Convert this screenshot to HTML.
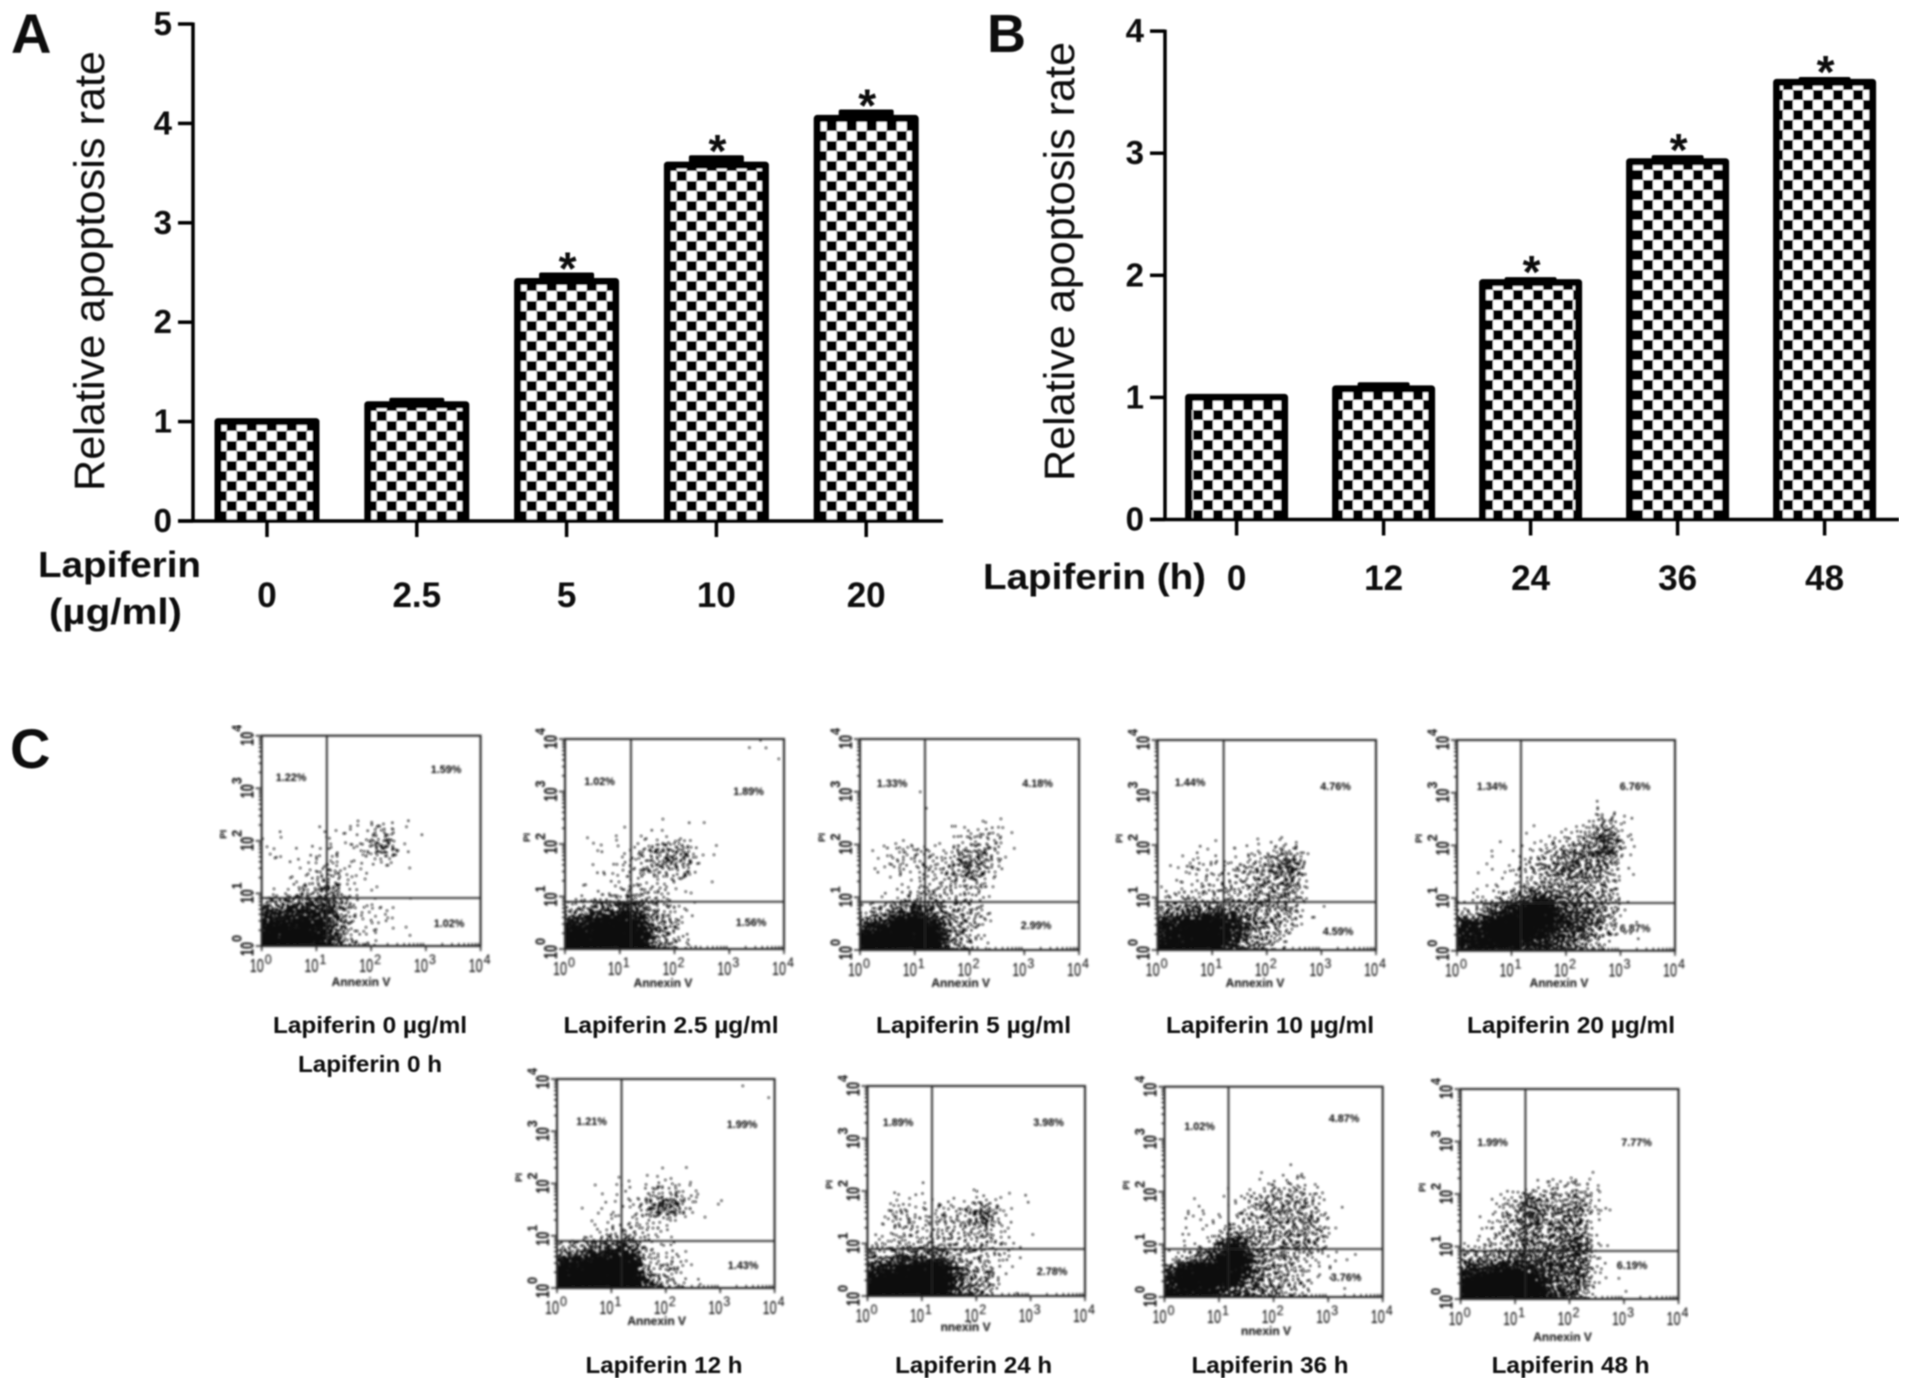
<!DOCTYPE html>
<html lang="en">
<head>
<meta charset="utf-8">
<title>Lapiferin apoptosis charts</title>
<style>
html,body{margin:0;padding:0;background:#fff;}
svg{display:block;}
text{font-family:"Liberation Sans",Arial,sans-serif;fill:#0a0a0a;}
</style>
</head>
<body>
<svg id="figure" xmlns="http://www.w3.org/2000/svg" width="1913" height="1391" viewBox="0 0 1913 1391">
<defs>
<filter id="soft" x="0" y="0" width="100%" height="100%"><feGaussianBlur stdDeviation="0.7"/></filter>
<filter id="softer" x="0" y="0" width="100%" height="100%"><feGaussianBlur stdDeviation="0.95"/></filter>
<pattern id="checkA" patternUnits="userSpaceOnUse" x="6.7" y="1" width="20" height="20"><rect width="20" height="20" fill="#fff"/><rect width="10" height="10" fill="#000"/><rect x="10" y="10" width="10" height="10" fill="#000"/></pattern>
<pattern id="checkB" patternUnits="userSpaceOnUse" x="3" y="0" width="20" height="20"><rect width="20" height="20" fill="#fff"/><rect width="10" height="10" fill="#000"/><rect x="10" y="10" width="10" height="10" fill="#000"/></pattern>
</defs>
<rect width="1913" height="1391" fill="#fff"/>
<g id="charts" filter="url(#soft)"></g>
<g id="flows" filter="url(#softer)"></g>
</svg>
<script>
// ---- Panel A data ----
const panelACategories = ['0', '2.5', '5', '10', '20'];
const panelAValues = [1.0, 1.17, 2.41, 3.58, 4.05];
const panelAErrors = [0, 0.04, 0.06, 0.07, 0.06];
const panelASignificant = [false, false, true, true, true];
const panelATicks = [0, 1, 2, 3, 4, 5];

// ---- Panel B data ----
const panelBCategories = ['0', '12', '24', '36', '48'];
const panelBValues = [1.0, 1.07, 1.94, 2.93, 3.58];
const panelBErrors = [0, 0.03, 0.02, 0.03, 0.02];
const panelBSignificant = [false, false, true, true, true];
const panelBTicks = [0, 1, 2, 3, 4];

// ---- Panel C data: estimated event density per cell (0-9), rows top to bottom, columns left to right ----
const flowDensity1 = ["00000000000000","00000000000000","00000000000000","00000000000000","00000000000000","00000100010000","10011214200000","20112125300000","01123121100000","00233210000000","12345210000000","66776322100000","88886322100000","99986321000000"];
const flowDensity2 = ["00000000000110","00000000000000","00000000000000","00000000000000","00000000000000","00000010100000","01011100000000","01112455100000","01123344100000","01122221000000","01234321000000","45677432000000","88998542000000","99999542000000"];
const flowDensity3 = ["00000000000000","00000000000000","00000000000000","00010000000000","00000000000000","00000011100000","00000123310000","02332244310000","02223355200000","00122333100000","01234332000000","34676443000000","78998542000000","99999542000000"];
const flowDensity4 = ["00000000000000","00000000000000","00000000000000","00000000000000","00000000000000","00000000000000","00000011000000","00111223410000","02322344610000","01223344510000","23333344410000","55666544410000","88998644200000","88997543100000"];
const flowDensity5 = ["00000000000000","00000000000000","00000000000000","00000000000000","00000000110000","00000000242000","00001123463000","00112345562000","01123455541000","01112344441000","02246755442000","34789976641000","88999877541000","88887765420000"];
const flowDensity6 = ["00000000000010","00000000000000","00000000000000","00000000000000","00000000000000","00000000000000","00011011000000","00111233210000","01112365200000","00122221000000","01234320000000","45677322000000","88999433000000","99999643100000"];
const flowDensity7 = ["00000000000000","00000000000000","00000000000000","00000000000000","00000000000000","00000000000000","00000000000000","01211112110000","03323346200000","02323334200000","23333333310000","55666433210000","88999744100000","99999654100000"];
const flowDensity8 = ["00000000000000","00000000000000","00000000000000","00000000000000","00000000000000","00000001000000","00000122310000","00011344430000","02212344441000","01113344442000","01158444442000","24689644321100","79998644321000","88876544310000"];
const flowDensity9 = ["00000000000000","00000000000000","00000000000000","00000000000000","00000000000000","00000000000000","00001233200000","00236435200000","01346455100000","01345455100000","13345557200000","55566666210000","88998656210000","99999765100000"];

const flowPercents1 = ['1.22%', '1.59%', '1.02%'];
const flowPercents2 = ['1.02%', '1.89%', '1.56%'];
const flowPercents3 = ['1.33%', '4.18%', '2.99%'];
const flowPercents4 = ['1.44%', '4.76%', '4.59%'];
const flowPercents5 = ['1.34%', '6.76%', '6.87%'];
const flowPercents6 = ['1.21%', '1.99%', '1.43%'];
const flowPercents7 = ['1.89%', '3.98%', '2.78%'];
const flowPercents8 = ['1.02%', '4.87%', '3.76%'];
const flowPercents9 = ['1.99%', '7.77%', '6.19%'];

// gate positions in decades of the log axes
const flowGateLogX = [1.19, 1.205, 1.187, 1.21, 1.174, 1.187, 1.186, 1.173, 1.19];
const flowGateLogY = [0.913, 0.90, 0.91, 0.914, 0.906, 0.90, 0.895, 0.913, 0.914];
const flowDecades = [0, 1, 2, 3, 4];

const SVGNS = 'http://www.w3.org/2000/svg';
function make(tag, parent) {
  const el = document.createElementNS(SVGNS, tag);
  parent.appendChild(el);
  return el;
}
function setAll(el, props) {
  for (const k in props) el.setAttribute(k, props[k]);
  return el;
}
function label(parent, str, x, y, size, weight, anchor, fit, rot) {
  const t = make('text', parent);
  t.textContent = str;
  setAll(t, {'font-size': size, 'font-weight': weight, 'text-anchor': anchor});
  if (rot) {
    t.setAttribute('transform', 'translate(' + x + ' ' + y + ') rotate(-90)');
  } else {
    setAll(t, {x: x, y: y});
  }
  if (fit) {
    setAll(t, {textLength: fit, lengthAdjust: 'spacingAndGlyphs'});
  }
  return t;
}

const charts = document.getElementById('charts');
const flows = document.getElementById('flows');

function drawBarChart(prefix, o, categories, values, errors, significant, ticks) {
  const g = make('g', charts);
  
  
  const yScale = v => o.y0 - v * o.unit;
  const xScale = i => o.x0 + i * o.step;

  categories.forEach((cat, i) => {
    const cx = xScale(i);
    const top = yScale(values[i]);
    const bw = o.barWidth;
    if (errors[i] > 0) {
      const errTop = yScale(values[i] + errors[i]);
      const err = make('rect', g);
      setAll(err, {x: cx - o.capWidth / 2, y: errTop - 3, width: o.capWidth, height: top - errTop + 5, rx: 2, fill: '#000'});
      
      
    }
    const bar = make('rect', g);
    setAll(bar, {x: cx - bw / 2 + 3.5, y: top, width: bw - 7, height: o.y0 - top, fill: 'url(#' + o.pattern + ')'});
    
    
    const outline = make('path', g);
    setAll(outline, {d: 'M' + (cx - bw / 2 + 3.5) + ' ' + o.y0 + 'V' + top + 'H' + (cx + bw / 2 - 3.5) + 'V' + o.y0, fill: 'none', stroke: '#000', 'stroke-width': 7, 'stroke-linejoin': 'round'});
    
    

    if (significant[i]) {
      const errTop = yScale(values[i] + errors[i]);
      const star = label(g, '*', cx + 1, errTop + o.starOffset, 46, 'bold', 'middle');
      
      
    }
    const tick = make('line', g);
    setAll(tick, {x1: cx, x2: cx, y1: o.y0, y2: o.y0 + 16, stroke: '#000', 'stroke-width': 3.5});
    
    
    const lab = label(g, cat, cx, o.catBase, 35, 'bold', 'middle');
    
    
  });

  const yAxis = make('line', g);
  setAll(yAxis, {x1: o.axisX, x2: o.axisX, y1: yScale(ticks[ticks.length - 1]) - 1.5, y2: o.y0 + 1.5, stroke: '#000', 'stroke-width': 3.5});
  
  
  const xAxis = make('line', g);
  setAll(xAxis, {x1: o.axisX - 15, x2: o.axisEnd, y1: o.y0, y2: o.y0, stroke: '#000', 'stroke-width': 3.5});
  
  

  ticks.forEach(v => {
    const y = yScale(v);
    const tick = make('line', g);
    setAll(tick, {x1: o.axisX - 15, x2: o.axisX, y1: y, y2: y, stroke: '#000', 'stroke-width': 3.5});
    
    
    const lab = label(g, String(v), o.axisX - 21, y + 11, 33, 'bold', 'end');
    
    
  });

  const title = label(g, 'Relative apoptosis rate', o.titleX, o.titleBottom, 43, 'normal', 'start', o.titleLength, true);
  
  
}

drawBarChart('panel-a', {
  x0: 267, step: 149.8, y0: 521, unit: 99.4, axisX: 193, axisEnd: 943,
  barWidth: 105, capWidth: 55, catBase: 607, starOffset: 9, pattern: 'checkA',
  titleX: 104, titleBottom: 491, titleLength: 440
}, panelACategories, panelAValues, panelAErrors, panelASignificant, panelATicks);

drawBarChart('panel-b', {
  x0: 1236.6, step: 147, y0: 519.5, unit: 122.1, axisX: 1165, axisEnd: 1899,
  barWidth: 103, capWidth: 52, catBase: 590, starOffset: 8, pattern: 'checkB',
  titleX: 1074, titleBottom: 481, titleLength: 439
}, panelBCategories, panelBValues, panelBErrors, panelBSignificant, panelBTicks);

const xTitleA1 = label(charts, 'Lapiferin', 38, 577, 36, 'bold', 'start', 163);


const xTitleA2 = label(charts, '(µg/ml)', 49, 624, 36, 'bold', 'start', 133);


const xTitleB = label(charts, 'Lapiferin (h)', 983, 589, 36, 'bold', 'start', 223);



const letterA = label(charts, 'A', 11, 53, 56, 'bold', 'start');


const letterB = label(charts, 'B', 987, 52, 54, 'bold', 'start');


const letterC = label(charts, 'C', 10, 768, 56, 'bold', 'start');



const densityCounts = [0, 2, 6, 16, 30, 50, 80, 125, 230, 520];
function frac(n) { return n - Math.floor(n); }
function scatterHash(a, b) { return frac(Math.sin(a * 12.9898 + b * 78.233) * 43758.5453); }
function cellCount(density, r, c) {
  const rr = Math.max(0, Math.min(density.length - 1, r));
  const cc = Math.max(0, Math.min(density[0].length - 1, c));
  return densityCounts[+density[rr][cc]];
}

function drawFlow(index, density, percents, b, pos, annexin, annexinText) {
  const name = 'flow-plot-' + index;
  const g = make('g', flows);
  
  
  const W = b.right - b.left;
  const H = b.bottom - b.top;
  const xLog = d => b.left + d / 4 * W;
  const yLog = d => b.bottom - d / 4 * H;
  const rows = density.length;
  const cols = density[0].length;
  const cw = W / cols;
  const ch = H / rows;
  const SUB = 4;
  let d = '';
  let carry = 0;
  let serial = index * 1000;
  for (let r = 0; r < rows; r++) {
    for (let c = 0; c < cols; c++) {
      for (let sr = 0; sr < SUB; sr++) {
        for (let sc = 0; sc < SUB; sc++) {
          const fx = c + (sc + 0.5) / SUB - 0.5;
          const fy = r + (sr + 0.5) / SUB - 0.5;
          const c0 = Math.floor(fx);
          const r0 = Math.floor(fy);
          const tx = fx - c0;
          const ty = fy - r0;
          const val = (cellCount(density, r0, c0) * (1 - tx) + cellCount(density, r0, c0 + 1) * tx) * (1 - ty) +
                      (cellCount(density, r0 + 1, c0) * (1 - tx) + cellCount(density, r0 + 1, c0 + 1) * tx) * ty;
          carry += val / (SUB * SUB);
          while (carry >= 1) {
            carry -= 1;
            serial++;
            const u = scatterHash(serial, 1.7);
            const v = scatterHash(serial, 9.3);
            const x = Math.max(b.left, Math.min(b.right - 2, b.left + (c + (sc - 0.5 + u * 2) / SUB) * cw));
            const y = Math.max(b.top, Math.min(b.bottom - 2, b.top + (r + (sr - 0.5 + v * 2) / SUB) * ch));
            d += 'M' + x.toFixed(1) + ' ' + y.toFixed(1) + 'h2v2h-2z';
          }
        }
      }
    }
  }
  const dots = make('path', g);
  setAll(dots, {d: d, fill: '#111'});
  
  

  const box = make('rect', g);
  setAll(box, {x: b.left, y: b.top, width: W, height: H, fill: 'none', stroke: '#222', 'stroke-width': 2});
  
  

  const gateV = make('line', g);
  setAll(gateV, {x1: xLog(flowGateLogX[index - 1]), x2: xLog(flowGateLogX[index - 1]), y1: b.top, y2: b.bottom, stroke: '#222', 'stroke-width': 1.8});
  
  
  const gateH = make('line', g);
  setAll(gateH, {x1: b.left, x2: b.right, y1: yLog(flowGateLogY[index - 1]), y2: yLog(flowGateLogY[index - 1]), stroke: '#222', 'stroke-width': 1.8});
  
  

  const minor = [1, 2, 3, 4, 5, 6, 7, 8, 9];
  let tickPath = '';
  flowDecades.slice(0, 4).forEach(dec => {
    minor.forEach(m => {
      const off = dec + Math.log10(m);
      const len = m === 1 ? 6 : 3;
      tickPath += 'M' + (b.left - len) + ' ' + yLog(off).toFixed(1) + 'H' + b.left;
      tickPath += 'M' + xLog(off).toFixed(1) + ' ' + b.bottom + 'v' + (m === 1 ? 5 : -3);
    });
  });
  tickPath += 'M' + (b.left - 6) + ' ' + b.top + 'H' + b.left + 'M' + b.right + ' ' + b.bottom + 'v5';
  const ticks = make('path', g);
  setAll(ticks, {d: tickPath, stroke: '#222', 'stroke-width': 1.5, fill: 'none'});
  
  

  flowDecades.forEach(dec => {
    const x = xLog(dec);
    const xb = label(g, '10', x - 5, b.bottom + 26, 18, 'normal', 'middle', 14);
    
    
    const xe = label(g, String(dec), x + 3, b.bottom + 18, 14, 'normal', 'start', 7);
    
    
    const y = yLog(dec);
    const yb = label(g, '10', b.left - 8, y + 10, 18, 'bold', 'start', 14, true);
    
    
    const ye = label(g, String(dec), b.left - 20, y - 4, 14, 'bold', 'start', 7, true);
    
    
  });

  const pi = label(g, 'PI', b.left - 35, b.top + 103, 9, 'bold', 'start', 9, true);
  
  
  const ann = label(g, annexinText, annexin[0], annexin[1], 12, 'bold', 'middle');
  
  

  percents.forEach((p, i) => {
    const t = label(g, p, pos[i][0], pos[i][1] + 4, 10.8, 'bold', 'middle');
    
    
  });
}

drawFlow(1, flowDensity1, flowPercents1, {left: 261.7, right: 480.6, top: 735.7, bottom: 946}, [[291, 777], [446, 769], [449, 923]], [361, 986], 'Annexin V');
drawFlow(2, flowDensity2, flowPercents2, {left: 565, right: 784, top: 739, bottom: 949}, [[599.5, 781], [748.5, 791], [751, 922]], [663, 987], 'Annexin V');
drawFlow(3, flowDensity3, flowPercents3, {left: 860, right: 1079, top: 739, bottom: 950}, [[892, 783], [1037.6, 783], [1036, 925]], [960.7, 987], 'Annexin V');
drawFlow(4, flowDensity4, flowPercents4, {left: 1157.6, right: 1376, top: 740, bottom: 950}, [[1190, 782], [1335.6, 786], [1338, 931]], [1255, 987], 'Annexin V');
drawFlow(5, flowDensity5, flowPercents5, {left: 1457, right: 1675, top: 740, bottom: 950.7}, [[1492, 786], [1635, 786], [1635, 928]], [1559, 987], 'Annexin V');
drawFlow(6, flowDensity6, flowPercents6, {left: 557, right: 774.6, top: 1079, bottom: 1288}, [[591.5, 1121], [742, 1124], [743, 1265]], [656.7, 1325], 'Annexin V');
drawFlow(7, flowDensity7, flowPercents7, {left: 867.5, right: 1085, top: 1086, bottom: 1296}, [[898, 1122], [1048.6, 1122], [1052, 1271]], [965.6, 1331], 'nnexin V');
drawFlow(8, flowDensity8, flowPercents8, {left: 1164.5, right: 1382.7, top: 1086.7, bottom: 1297}, [[1199.6, 1126], [1344, 1118], [1346, 1277]], [1266, 1335], 'nnexin V');
drawFlow(9, flowDensity9, flowPercents9, {left: 1460.6, right: 1678.5, top: 1089, bottom: 1299}, [[1492.6, 1142], [1636.6, 1142], [1632, 1265]], [1562.6, 1341], 'Annexin V');

const cap1 = label(charts, 'Lapiferin 0 µg/ml', 370, 1033, 23, 'bold', 'middle', 194);


const cap1b = label(charts, 'Lapiferin 0 h', 370, 1072, 23, 'bold', 'middle', 144);


const cap2 = label(charts, 'Lapiferin 2.5 µg/ml', 671, 1033, 23, 'bold', 'middle', 215);


const cap3 = label(charts, 'Lapiferin 5 µg/ml', 973.5, 1033, 23, 'bold', 'middle', 195);


const cap4 = label(charts, 'Lapiferin 10 µg/ml', 1270, 1033, 23, 'bold', 'middle', 208);


const cap5 = label(charts, 'Lapiferin 20 µg/ml', 1571, 1033, 23, 'bold', 'middle', 208);


const cap6 = label(charts, 'Lapiferin 12 h', 664, 1373, 23, 'bold', 'middle', 157);


const cap7 = label(charts, 'Lapiferin 24 h', 973.6, 1373, 23, 'bold', 'middle', 157);


const cap8 = label(charts, 'Lapiferin 36 h', 1270, 1373, 23, 'bold', 'middle', 157);


const cap9 = label(charts, 'Lapiferin 48 h', 1570.6, 1373, 23, 'bold', 'middle', 158);


</script>
</body>
</html>
